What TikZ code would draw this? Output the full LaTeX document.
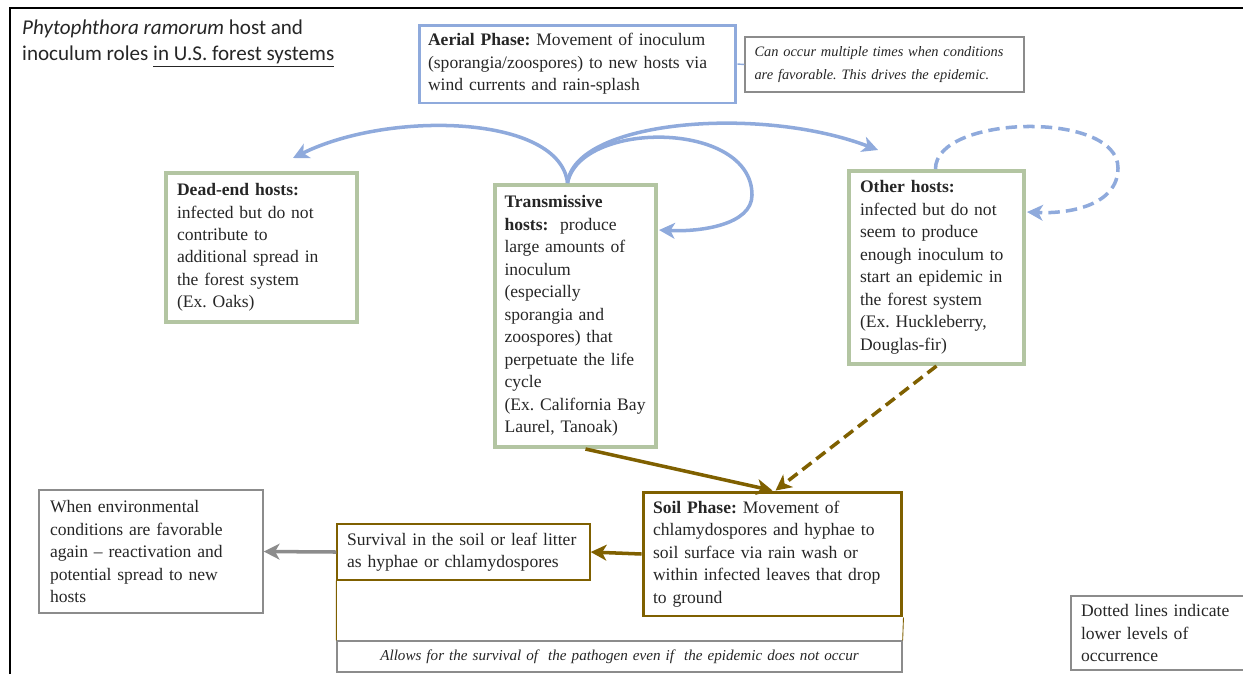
\documentclass[tikz,border=0pt]{standalone}
\usepackage{fontspec}
\setmainfont{Liberation Serif}
\newfontfamily\titlefont{Carlito}
\usetikzlibrary{calc,arrows.meta}
\frenchspacing

\definecolor{airblue}{HTML}{8FAADC}
\definecolor{hostgreen}{HTML}{B3C5A2}
\definecolor{soilbrown}{HTML}{7F6000}
\definecolor{notegrey}{HTML}{8C8C8C}
\definecolor{inktext}{HTML}{262626}

\tikzset{
  boxtext/.style={align=left, text=inktext, font=\fontsize{10}{12.8}\selectfont},
  hostbox/.style={boxtext, draw=hostgreen, line width=2.3pt, inner xsep=0.22cm},
  airbox/.style={boxtext, draw=airblue, line width=1.7pt, inner xsep=0.18cm},
  soilbox/.style={boxtext, draw=soilbrown, line width=1.7pt, inner xsep=0.2cm},
  litterbox/.style={boxtext, draw=soilbrown, line width=0.8pt, inner xsep=0.2cm},
  notebox/.style={boxtext, draw=notegrey, line width=0.8pt, inner xsep=0.2cm},
  airarrow/.style={draw=airblue, line width=2pt, -{Stealth[length=9pt,width=9pt,inset=2.5pt]}},
  soilarrow/.style={draw=soilbrown, line width=2pt, -{Stealth[length=9pt,width=9pt,inset=2.5pt]}},
  rare/.style={dash pattern=on 6.5pt off 3.5pt}
}

\begin{document}
\begin{tikzpicture}[x=0.02cm, y=-0.02cm]
		%%%%% START %%%%%
		\useasboundingbox (0, 0) rectangle (1243, 674);
		\draw[line width=1.5pt] (10, 674) -- (10, 8) -- (1243, 8);
		
		\node[anchor=north west, align=left, text=inktext, font=\titlefont\fontsize{12}{14.7}\selectfont] (title) at (16, 14)
			{\textit{Phytophthora ramorum} host and\\inoculum roles \underline{in U.S. forest systems}};
		
		% aerial phase
		\node[airbox, minimum width=6.34cm, minimum height=1.56cm, text width=5.98cm] (aerial) at (577.5, 64)
			{\textbf{Aerial Phase:} Movement of inoculum\\(sporangia/zoospores) to new hosts via\\wind currents and rain-splash};
		\node[notebox, minimum width=5.58cm, minimum height=1.1cm, text width=5.2cm, inner xsep=0.19cm, font=\fontsize{8.2}{12.8}\selectfont\itshape] (aerialnote) at (884.5, 64.5)
			{Can occur multiple times when conditions\\are favorable. This drives the epidemic.};
		\draw[airblue, line width=0.8pt] (aerial.east) -- (aerialnote.west);
		
		% hosts
		\node[hostbox, minimum width=3.82cm, minimum height=2.98cm, text width=3.38cm] (deadend) at (261.5, 247.5)
			{\textbf{Dead-end hosts:}\\infected but do not\\contribute to\\additional spread in\\the forest system\\(Ex. Oaks)};
		\node[hostbox, minimum width=3.22cm, minimum height=5.24cm, text width=2.84cm, inner xsep=0.19cm] (trans) at (575.5, 316)
			{\textbf{Transmissive}\\\textbf{hosts:}~~produce\\large amounts of\\inoculum\\(especially\\sporangia and\\zoospores) that\\perpetuate the life\\cycle\\(Ex. California Bay\\Laurel, Tanoak)};
		\node[hostbox, minimum width=3.5cm, minimum height=3.86cm, text width=3.06cm] (other) at (936.5, 267.5)
			{\textbf{Other hosts:}\\infected but do not\\seem to produce\\enough inoculum to\\start an epidemic in\\the forest system\\(Ex. Huckleberry,\\Douglas-fir)};
		
		% soil phase
		\node[soilbox, minimum width=5.18cm, minimum height=2.48cm, text width=4.78cm] (soil) at (772.5, 554)
			{\textbf{Soil Phase:} Movement of\\chlamydospores and hyphae to\\soil surface via rain wash or\\within infected leaves that drop\\to ground};
		\node[litterbox, minimum width=5.06cm, minimum height=1.12cm, text width=4.66cm] (litter) at (463.5, 552)
			{Survival in the soil or leaf litter\\as hyphae or chlamydospores};
		\node[notebox, minimum width=4.48cm, minimum height=2.46cm, text width=4.04cm] (revive) at (151, 551.5)
			{When environmental\\conditions are favorable\\again -- reactivation and\\potential spread to new\\hosts};
		\node[notebox, minimum width=11.3cm, minimum height=0.62cm, text width=10.9cm, align=center, font=\fontsize{8.6}{10}\selectfont\itshape] (allows) at (619.5, 656.5)
			{Allows for the survival of~ the pathogen even if~ the epidemic does not occur};
		\node[notebox, minimum width=3.58cm, minimum height=1.48cm, text width=3.18cm] (legend) at (1160.5, 633)
			{Dotted lines indicate\\lower levels of\\occurrence};
		
		% aerial spread
		\coordinate (tsrc) at ($(trans.north)+(-8, 0)$);
		\coordinate (deadtip) at ($(deadend.north west)+(129, -13)$);
		\coordinate (othertip) at ($(other.north west)+(31, -19)$);
		\coordinate (transtip) at ($(trans.north east)+(1, 47)$);
		\coordinate (othertop) at ($(other.north)+(-1, 0)$);
		\coordinate (loopretip) at ($(other.north east)+(1, 43)$);
		\draw[airarrow] (tsrc) .. controls (560, 115) and (390, 110) .. (deadtip);
		\draw[airarrow] (tsrc) .. controls (575, 120) and (760, 105) .. (othertip);
		\draw[airarrow] (tsrc) .. controls (580, 120) and (752, 120) .. (752, 195) .. controls (752, 225) and (700, 232) .. (transtip);
		\draw[airarrow, rare] (othertop) .. controls (935, 115) and (1118, 110) .. (1118, 168) .. controls (1118, 205) and (1070, 214) .. (loopretip);
		
		% soil spread
		\draw[soilarrow] ($(trans.south)+(10, 0)$) -- (soil.north);
		\draw[soilarrow, rare] (other.south) -- ($(soil.north)+(3, 0)$);
		\draw[soilarrow] (soil.west) -- (litter.east);
		\draw[notegrey, line width=2pt, -{Stealth[length=9pt,width=9pt,inset=2.5pt]}] (litter.west) -- (revive.east);
		\draw[soilbrown, line width=0.5pt] (litter.south west) -- (allows.north west);
		\draw[soilbrown, line width=0.5pt] (soil.south east) -- (allows.north east);
		
		%%%%% END %%%%%
\end{tikzpicture}
\end{document}
